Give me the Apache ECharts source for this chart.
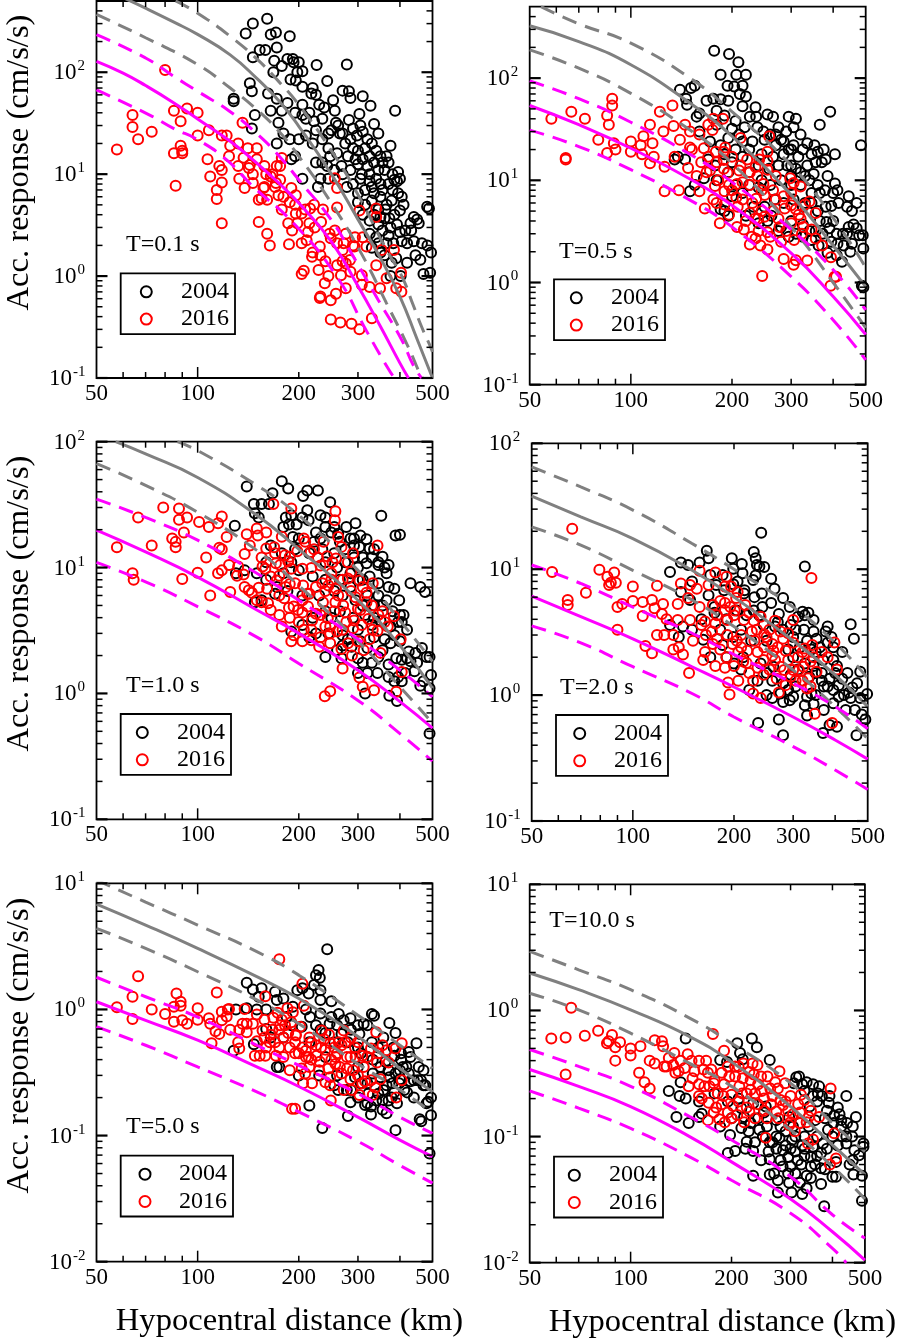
<!DOCTYPE html>
<html>
<head>
<meta charset="utf-8">
<style>
  html, body { margin: 0; padding: 0; background: #fff; }
  #chart { width: 898px; height: 1341px; }
</style>
<script src="https://cdn.jsdelivr.net/npm/echarts@6/dist/echarts.min.js"></script>
</head>
<body>
<div id="chart"></div>
<script>
const xMinorTicks = [60, 70, 80, 90, 200, 300, 400]
const xMajorTicks = [100]
const xLabels = [50, 100, 200, 300, 500]
const yearNames = ['2004', '2016']

// T=0.1 s
const t01_2004 = [[161,335],[146,300],[139,240],[165,235],[171,245],[188,225],[172,175],[153,165],[159,165],[146,140],[169,130],[193,125],[178,115],[168,100],[185,135],[192,135],[200,125],[198,100],[205,102],[196,83],[226,118],[278,119],[243,82],[189,85],[205,72],[220,70],[218,62],[162,62],[172,55],[225,60],[145,65],[143,78],[128,52],[128,55],[270,66],[282,65],[285,56],[310,58],[253,53],[327,47],[387,42],[335,31],[165,42],[178,42],[185,50],[205,48],[215,40],[230,48],[238,45],[148,38],[174,32],[195,40],[205,38],[222,33],[235,35],[258,32],[256,42],[282,34],[303,39],[145,28],[180,25],[172,20],[188,22],[200,22],[210,24],[220,20],[235,22],[245,18],[265,25],[275,20],[285,22],[298,24],[305,30],[320,22],[262,30],[250,27],[375,19],[365,15],[350,15],[340,17],[325,15],[315,18],[300,17],[290,18],[280,15],[260,16],[248,15],[225,13],[235,13],[190,14],[195,15],[205,9],[228,7.5],[232,9],[243,12],[255,11],[268,12],[285,11],[300,12.5],[308,10],[320,12],[335,13],[345,11],[360,11],[380,10],[395,10.5],[392,8.5],[385,8.8],[370,8],[350,8],[325,8.5],[305,9],[290,8],[278,7.5],[300,6.5],[315,7],[335,6.5],[350,6],[365,5],[378,5.5],[405,6],[400,4.4],[385,4],[362,4.5],[345,4.5],[330,5.5],[300,5.3],[310,4],[325,3.5],[345,3.2],[372,3.7],[392,3.2],[355,2.8],[340,2.4],[325,2.6],[345,2.1],[365,2.1],[382,2.1],[405,2.2],[415,2.8],[440,3.8],[450,3.6],[455,3.3],[432,2.8],[440,2.2],[465,2.1],[445,1.6],[420,1.35],[378,1.35],[375,1],[402,1],[460,1.45],[483,2],[495,1.7],[470,1.05],[492,1.08],[482,4.8],[488,4.6],[330,1.9],[350,1.7],[210,35],[225,27],[245,25],[270,25],[290,28],[310,26],[330,20],[345,25],[295,14],[310,14],[325,10],[270,10],[245,9],[355,13],[370,13],[400,9],[340,9],[355,7],[380,7],[395,6.5],[410,5],[330,7.5],[375,3],[400,2.7],[420,2.1],[430,3.3],[360,3.7],[370,2.5],[315,5],[335,4],[350,3.8],[360,1.6],[390,1.5]]
const t01_2016 = [[80,105],[64,38],[64,29],[66.5,22],[73,26],[57.5,17.5],[85,42],[93,44],[89,33],[100,40],[100,24],[89,19],[85,16],[90,16],[90,17],[86,7.7],[108,27],[136,32],[118,24],[122,24],[125,19],[132,20],[141,18],[150,18],[107,14],[109,9.5],[114,7],[114,5.7],[118,3.3],[116,12],[118,11],[118,8.3],[124,15],[132,12],[133,9],[137,14.5],[142,11.5],[138,7.3],[146,8.2],[150,14],[158,12],[152,5.6],[152,3.4],[161,2.6],[164,2],[158,7.5],[161,5.6],[172,12],[176,12],[178,14.4],[176,8.8],[165,9.5],[180,6],[174,6.2],[178,4.5],[190,7.3],[196,6.2],[186,3.3],[198,3.3],[191,2.8],[187,2.05],[204,2.1],[204,4.1],[196,4.1],[209,4.5],[216,4.6],[222,5],[236,4.5],[213,2.7],[204,1.05],[207,1.13],[219,1.55],[229,1.15],[231,1.95],[232,1.6],[233,3.4],[247,2.6],[249,2.35],[256,2.8],[260,2.1],[223,3],[232,0.63],[231,0.61],[249,0.58],[258,0.67],[239,0.85],[245,1],[276,0.76],[267,1.02],[260,1.28],[270,1.4],[284,1.44],[249,0.375],[266,0.35],[287,0.34],[303,0.3],[330,0.385],[256,9.1],[260,7.3],[260,4.7],[303,4.4],[340,4.6],[340,3.8],[294,2.4],[310,2.4],[293,1.95],[318,1.95],[353,1.8],[384,1.8],[340,1.28],[365,0.95],[403,1.08],[308,1.02],[308,0.82],[325,0.78],[349,0.76],[390,0.76],[404,0.7],[276,2.6],[272,2.1],[167,10],[171,8.2],[143,12.3],[157,7.3],[211,2.25],[276,1.33],[155,5.8],[270,1.8],[290,2],[220,1.7],[240,1.4],[285,1.1],[195,5],[188,5.3],[170,7.5],[160,10],[146,10],[215,3.3]]
const t01_grayMid = [[60,540],[70,425],[85,310],[100,235],[125,148],[150,87],[175,52],[200,29.5],[250,10],[300,3.6],[350,1.5],[400,0.63],[450,0.24],[500,0.1]]
const t01_grayHigh = [[86,500],[100,380],[125,225],[150,135],[175,80],[200,48],[250,17],[300,6.3],[365,1.8],[405,1],[438,0.52],[464,0.318],[494,0.2],[500,0.18]]
const t01_grayLow = [[50,369],[70,218],[100,119],[125,70],[150,43],[175,26],[200,15],[250,5.2],[307,1.67],[365,0.54],[424,0.2],[459,0.11],[468,0.1]]
const t01_pinkMid = [[50,128],[60,98],[70,74],[85,50],[100,34.8],[125,21],[150,12.8],[175,8.1],[200,5.2],[250,2.18],[300,0.8],[350,0.32],[400,0.14],[424,0.1]]
const t01_pinkHigh = [[50,234],[70,138],[85,91],[100,65],[125,41],[150,25],[175,15],[200,8.8],[250,3.55],[287,1.67],[345,0.58],[405,0.236],[438,0.134],[464,0.1]]
const t01_pinkLow = [[50,67],[72,38],[85,28],[100,21.8],[122,13.8],[146,7.6],[193,3.3],[260,0.98],[318,0.29],[374,0.115],[386,0.1]]

// T=0.5 s
const t05_2004 = [[177,185],[196,172],[209,143],[185,108],[206,108],[220,108],[194,84],[203,83],[215,84],[155,84],[151,80],[140,77],[146,63],[147,55],[168,60],[176,63],[185,62],[195,60],[211,70],[220,66],[215,53],[235,52],[160,45],[157,42],[180,48],[190,43],[205,38],[226,42],[236,42],[255,44],[265,42],[295,42],[310,40],[392,47],[365,35],[484,22],[375,20],[405,18],[380,16],[180,35],[200,32],[218,33],[238,33],[260,28],[275,33],[290,30],[305,33],[320,28],[335,23],[352,22],[360,19],[345,18],[325,20],[305,22],[285,24],[270,22],[250,25],[230,24],[215,24],[195,26],[172,24],[160,30],[185,22],[205,20],[225,20],[245,18],[265,17],[285,18],[300,20],[315,17],[335,14],[355,15],[370,15],[385,11],[350,11.5],[330,11],[310,13],[292,14],[275,14],[258,13],[240,14],[215,17],[200,15],[150,7.8],[155,9],[165,10.5],[180,10],[195,12],[225,12],[205,9],[215,7.5],[240,8.5],[260,9],[280,10],[300,11],[320,9],[345,7.5],[365,7.5],[405,9.3],[412,8],[400,7.5],[415,6],[395,5.6],[380,5.5],[445,7],[440,5.5],[455,5],[470,6],[360,5],[345,6],[325,5.5],[305,6.5],[285,6],[268,6.5],[250,5.5],[232,5.5],[220,4.5],[190,5],[195,4.5],[240,3.8],[262,4.5],[280,3.5],[300,4],[325,3.7],[365,4],[382,3.9],[390,3.4],[372,3],[410,3],[428,3],[445,3.5],[460,3.7],[440,3],[455,2.4],[478,2.9],[450,2],[492,2.15],[385,1.95],[410,1.85],[425,1.6],[362,2.3],[345,2.6],[487,0.93],[492,0.9],[275,3.2],[295,2.8],[145,16],[135,16],[138,17],[170,16],[178,14],[190,18],[210,28],[248,30],[270,28],[295,20],[320,12],[340,10],[360,9],[378,8],[300,9],[330,6],[355,3.2],[400,4],[470,3.4],[430,2.3],[490,2.9],[340,3.2],[245,10],[225,9],[200,7],[185,5.2],[255,4],[310,3],[325,2.8],[412,2.4],[395,2.5],[300,14],[280,25]]
const t05_2016 = [[58,40],[66.5,47],[73,40],[64,16],[64,16.5],[80,25],[85,43],[88,63],[88,54],[86,35],[85,18.5],[89,23],[90,20],[100,24],[100,19],[107,22],[109,27],[108,18],[114,35],[116,23],[114,14.7],[117,17],[122,47],[125,30],[126,13.6],[126,7.8],[133,54],[134,34],[135,17],[145,35],[140,25],[150,30],[139,8],[160,7.8],[166,5.3],[148,13.2],[157,11],[160,28],[176,40],[188,40],[170,35],[175,31],[212,26],[258,27],[152,20],[165,20.6],[170,17],[179,19],[189,19],[191,21],[172,12.5],[178,8.8],[176,6.5],[189,13],[189,15.8],[194,11.8],[196,9],[190,7.8],[206,6.8],[207,9.2],[215,9.6],[226,12],[226,9],[238,11],[241,16],[255,19],[255,15.5],[255,12.7],[248,9.2],[265,8],[215,6.5],[236,6.6],[250,7.2],[208,5.5],[226,4.8],[234,4.2],[239,4.2],[245,5],[275,4.2],[287,5.3],[277,3.5],[298,10.5],[305,9.4],[320,8.7],[340,6.2],[330,5.8],[355,4.8],[316,4.6],[300,3.8],[326,3.5],[323,3],[255,3.1],[207,3.5],[217,3.3],[229,2.8],[235,2.7],[226,2.35],[243,2.3],[255,2.1],[280,2.5],[306,2.6],[355,2.7],[371,2.3],[285,1.7],[305,1.49],[310,1.65],[335,1.64],[394,1.77],[404,1.14],[408,1.14],[393,0.93],[246,1.16],[184,3.8],[196,4.6],[150,21],[162,15],[168,12],[180,15],[200,17],[212,14],[222,16],[235,13.5],[245,8],[270,11],[285,7],[300,7.5],[310,5.2],[265,5],[250,4.4],[220,4],[190,5.8],[200,8],[180,6],[182,10],[270,6.5],[345,3.3],[290,3.2],[260,2.8],[240,3.2],[300,5.7],[320,4.2],[230,6],[210,12.5]]
const t05_grayMid = [[50,325],[70,228],[100,135],[150,57],[200,27],[300,7.2],[400,2.3],[500,0.91]]
const t05_grayHigh = [[54,500],[70,340],[100,220],[150,100],[200,47],[300,14],[400,4.3],[500,1.4]]
const t05_grayLow = [[50,189],[70,125],[100,71],[150,31],[200,14.7],[300,3.5],[400,1],[500,0.36]]
const t05_pinkMid = [[50,54],[70,35],[100,20.6],[150,10.3],[200,5.7],[300,1.94],[400,0.73],[500,0.31]]
const t05_pinkHigh = [[50,94],[70,63],[100,37],[150,18],[200,9.6],[300,3.3],[400,1.33],[500,0.54]]
const t05_pinkLow = [[50,31],[70,21.4],[100,12.7],[150,6.4],[200,3.5],[300,1.14],[400,0.43],[500,0.175]]

// T=1.0 s
const t10_2004 = [[178,48.6],[186,42.5],[140,44],[167,39],[212,41],[228,41],[206,37],[248,33],[147,32],[155,32],[163,32],[148,27],[152,25],[129,21.5],[352,25.8],[388,18],[400,18.2],[430,7.5],[460,7],[475,6.4],[212,28.5],[232,26],[240,25],[190,26],[183,25],[214,23.8],[180,21],[187,22],[197,22],[277,21],[295,22.5],[250,19],[225,19],[262,18.6],[192,17.5],[292,17],[318,16.8],[303,14.6],[325,14.2],[355,12.2],[370,10.5],[345,11],[318,10.8],[365,9],[292,15],[195,14],[215,13],[235,14],[255,13],[275,14],[292,12],[310,12],[330,12],[345,10.5],[360,10],[285,9],[265,8],[240,8],[220,8.5],[200,9.5],[180,9],[172,7],[170,6.2],[155,5.5],[148,5.3],[300,8],[325,8.5],[345,7.5],[370,7],[385,6.8],[398,5.5],[380,4.5],[365,5.5],[345,6],[320,6],[295,5.5],[270,6],[240,4.5],[220,4],[205,3.5],[190,3.1],[265,4.5],[290,4],[315,4.2],[350,3.8],[375,3.4],[395,3.7],[400,4.2],[410,4.2],[405,3.7],[385,2.9],[360,2.7],[335,2.8],[305,2.6],[280,2.7],[270,2.9],[245,3],[240,1.95],[268,1.9],[287,2.35],[320,2.3],[345,1.95],[330,1.75],[310,1.75],[370,1.7],[390,1.9],[405,1.85],[425,2.15],[445,2.1],[465,2.3],[480,1.95],[490,1.95],[450,1.75],[430,1.8],[415,1.45],[395,1.35],[385,1.25],[405,1.25],[442,1.5],[460,1.15],[470,1.25],[495,1.4],[490,1.1],[320,1.45],[343,1.45],[300,1.45],[315,1],[372,0.96],[392,0.87],[490,0.48],[130,9],[138,9.5],[160,11],[200,17],[232,17],[255,21],[275,11],[310,8],[335,5],[205,25],[222,16],[240,21],[265,16],[285,17],[305,18],[335,14],[300,10],[240,11],[260,10],[190,11],[178,13],[165,15],[150,9],[160,8],[185,6.5],[205,6],[230,6],[255,6.5],[285,7],[310,5],[335,4],[355,5],[250,4],[225,3],[215,2.8],[260,2.2],[300,3.2],[330,3.5],[375,2.5],[400,2.6],[420,1.9],[355,2.2],[370,1.35],[300,1.9],[270,2.4],[420,3.2]]
const t10_2016 = [[79,30],[66.5,25],[88,29.5],[88,24],[93,25],[101,23],[108,21],[115,22.5],[118,25.5],[91,19],[84,17],[86,16],[86,14.5],[73,15],[57.5,14.5],[64,9],[64.5,8],[90,8.1],[100,9.1],[106,12],[109,6],[115,9],[118,9.5],[116,14.4],[118,14],[122,17.5],[124,10.5],[132,10.2],[131,8.6],[137,8.8],[138,7],[125,6.4],[138,12.8],[140,18.4],[150,20.4],[143,15],[151,18],[160,19],[160,14.2],[169,14.5],[168,32],[190,29.5],[178,17.6],[156,10.2],[159,9.8],[145,6.3],[142,6.6],[152,6.9],[161,6.8],[150,5.5],[155,5.3],[162,5.2],[165,4.6],[175,4.2],[178,3.4],[171,10.8],[176,10.5],[182,12.5],[188,12.2],[186,11.2],[190,9.8],[175,8.6],[172,7.9],[188,7.4],[181,5.7],[187,4.8],[193,4.9],[205,5.5],[199,4.6],[205,4.4],[213,4.9],[188,4],[193,2.9],[190,2.6],[205,2.6],[207,3.2],[218,3.2],[219,3.8],[218,2.65],[230,2.35],[232,4.2],[232,2.8],[248,2.5],[248,3],[248,3.4],[244,3.95],[260,3.1],[236,5.3],[257,5.3],[271,5],[215,6.2],[206,7.2],[205,9.8],[218,9.9],[207,17],[209,16],[237,16],[217,13.3],[243,12.3],[258,11.8],[252,11],[232,10.4],[250,9],[262,17.5],[268,14.6],[257,28],[256,23.8],[245,7.2],[258,6.8],[287,9.3],[303,7.9],[286,6.5],[318,6.3],[318,5.3],[332,7.5],[343,15],[305,4.6],[355,4.5],[384,4.1],[368,3.4],[277,3.7],[292,3.8],[308,3.5],[332,3.2],[343,3.15],[325,2.7],[402,2.7],[268,2.25],[288,2],[312,2.2],[350,2.1],[270,1.58],[405,1.48],[303,1.34],[310,1.13],[335,1.06],[390,1.03],[239,0.95],[248,1.04],[170,13],[198,13.5],[222,14],[195,7.5],[212,6.2],[225,7],[240,6.5],[270,8],[262,6],[280,8.2],[295,5.8],[310,7],[200,3.7],[225,4.3],[255,4.5],[275,4.4],[300,4.7],[330,5],[345,4.2],[270,3.2],[290,3.3],[240,3.4],[322,3.9],[300,2.6],[280,2.5],[360,3.7],[175,6],[183,7],[155,12],[165,8.5],[235,7.5],[250,8],[228,12],[280,11],[290,13]]
const t10_grayMid = [[57,100],[70,80],[100,52],[150,26],[200,14],[300,5.5],[400,2.4],[500,1.1]]
const t10_grayHigh = [[87,100],[100,85],[150,45],[200,26],[300,9.5],[400,3.8],[500,1.8]]
const t10_grayLow = [[50,67],[70,45],[100,27.5],[150,13.7],[200,7.2],[300,2.6],[400,1.13],[500,0.58]]
const t10_pinkMid = [[50,19.8],[70,13.3],[100,8.4],[150,4.6],[200,3],[300,1.53],[400,0.86],[500,0.53]]
const t10_pinkHigh = [[50,35],[70,25],[100,16.5],[150,9],[200,5.5],[300,2.7],[400,1.53],[500,0.94]]
const t10_pinkLow = [[50,11],[70,7.7],[100,4.9],[150,2.8],[200,1.73],[300,0.88],[400,0.48],[500,0.29]]

// T=2.0 s
const t20_2004 = [[241,19.5],[229,13.7],[166,14],[168,12.2],[139,11.3],[146,10.8],[129,9.5],[158,11.3],[197,12.2],[211,11],[199,10.1],[212,9.3],[232,12.2],[234,10.8],[238,10.5],[246,10.4],[232,8.9],[228,8.2],[325,10.5],[258,8.4],[264,7],[280,5.9],[293,5],[445,3.65],[455,2.8],[380,3.5],[375,3.2],[345,3.2],[345,3.95],[325,4.3],[320,4.6],[333,4.5],[310,4.2],[390,2.9],[420,2.2],[435,1.5],[475,1.53],[465,1.24],[498,1.02],[492,0.64],[463,0.48],[458,0.76],[139,6.6],[148,5.7],[168,6.2],[177,7.5],[187,6.8],[199,7.6],[214,6.4],[230,6],[242,6.4],[258,5.4],[272,4.4],[229,4.7],[243,5],[204,4.7],[218,4.3],[238,4.3],[265,3.5],[280,3.3],[300,2.9],[323,3.3],[352,2.8],[380,2.6],[395,1.9],[340,2.3],[314,2.4],[368,1.9],[350,1.5],[385,1.35],[405,1.7],[420,1.35],[380,1.17],[410,0.97],[395,0.86],[370,1.17],[340,1.03],[325,0.83],[330,0.69],[370,0.76],[430,0.76],[385,0.58],[405,0.56],[368,0.5],[300,0.97],[293,0.91],[275,1.03],[280,0.88],[250,1],[222,1.1],[236,0.6],[272,0.64],[280,0.48],[280,1.24],[260,1.3],[262,1.68],[240,1.78],[213,2],[200,1.78],[190,2],[162,2.75],[137,2.9],[129,3.6],[141,3.5],[182,3.3],[199,2.9],[300,2],[325,1.78],[295,1.45],[335,1.4],[305,1.17],[330,0.97],[160,4],[175,4.5],[210,3.3],[225,2.7],[250,2.7],[290,2.3],[350,2.2],[365,1.5],[410,1.2],[440,1.05],[475,0.95],[480,0.7],[150,8],[170,9],[185,9],[205,8],[215,6.8],[175,5],[190,4],[150,3.3],[245,3.6],[270,3.8],[295,3.6],[305,3.3],[330,2.7],[360,2.4],[395,2.4],[310,1.6],[345,1.7],[365,1.3],[400,1.5],[450,1.15],[425,1],[445,0.95],[290,1.1],[260,0.95],[235,1.3],[210,1.6],[185,2.5],[170,2],[250,1.5],[350,1],[395,1.1],[345,0.85]]
const t20_2016 = [[66,21],[57.5,9.5],[64,5.7],[64,5.2],[72.5,6.5],[79.5,9.9],[84,8.7],[88,9.4],[86,7.8],[89,7.8],[85,7.5],[90,5],[93,5.3],[90,3.3],[100,7.3],[100,5.6],[107,5.5],[114,5.7],[107,4.25],[116,4.9],[123,5.3],[118,7.4],[122,4.4],[126,4],[118,3],[124,3],[109,2.45],[114,2.15],[132,2.3],[132,3],[137,2.4],[141,2.1],[136,5.3],[136,3.95],[139,7.7],[146,5.9],[148,3.95],[148,7.5],[147,1.5],[151,2.7],[155,7],[158,9.7],[158,5],[160,3.6],[164,3.85],[162,1.9],[164,2.2],[176,1.7],[176,9.4],[173,5.2],[178,4.3],[176,3.7],[172,3.2],[178,2.8],[173,2.55],[190,2],[188,1.65],[190,8.7],[188,7.3],[188,5.4],[188,4.7],[191,3.95],[191,3],[196,7.3],[205,6.6],[203,5.9],[201,4.7],[200,4.3],[198,2.55],[204,2.7],[206,2.2],[216,5.2],[214,3.95],[219,2.25],[213,1.85],[218,1.8],[206,1.3],[192,1.26],[194,1.01],[228,1.3],[228,1.03],[240,0.95],[245,1.45],[226,3.2],[234,3.3],[229,3.9],[246,3.05],[265,3.9],[246,2.4],[235,2.2],[245,1.9],[260,2.55],[262,2.25],[260,2.05],[275,3.2],[290,3.1],[300,3.95],[285,2.25],[275,1.68],[282,1.58],[312,1.58],[300,1.58],[322,1.68],[338,1.85],[325,2.35],[342,2.5],[365,2.2],[398,2.62],[405,1.6],[352,1.53],[332,1.36],[330,1.13],[338,1.17],[305,1.3],[285,1.2],[272,1.05],[340,8.5],[348,0.71],[392,0.6],[168,7.5],[182,5.6],[195,5],[165,3],[182,2.3],[210,3],[222,4.5],[240,4.2],[255,3.3],[280,2.8],[300,2.6],[320,2.2],[345,2],[380,2],[310,2],[290,1.9],[255,1.6],[235,1.65],[222,1.5],[268,1.35],[200,1.7],[210,2.4],[230,2.7],[250,2.9],[270,2.4],[295,1.4],[320,1.3],[265,1.9]]
const t20_grayMid = [[50,38],[70,26],[100,17.5],[150,9.8],[200,6],[300,2.7],[400,1.45],[500,0.81]]
const t20_grayHigh = [[50,65],[70,45],[100,29.5],[150,16],[200,10],[300,5],[400,2.6],[500,1.36]]
const t20_grayLow = [[50,21.7],[70,15.5],[100,9.8],[150,5.7],[200,3.5],[300,1.58],[400,0.81],[500,0.45]]
const t20_pinkMid = [[50,6.1],[70,4.2],[100,2.8],[150,1.68],[200,1.16],[300,0.67],[400,0.44],[500,0.31]]
const t20_pinkHigh = [[50,10.8],[70,7.7],[100,5],[150,3.1],[200,2.1],[300,1.24],[400,0.81],[500,0.54]]
const t20_pinkLow = [[50,3.55],[70,2.6],[100,1.68],[150,1.03],[200,0.67],[300,0.39],[400,0.254],[500,0.178]]

// T=5.0 s
const t50_2004 = [[243,3],[229,2.05],[225,1.87],[231,1.78],[140,1.63],[146,1.44],[155,1.47],[170,1.38],[152,1.26],[172,1.19],[180,1.22],[198,1.42],[205,1.47],[214,1.34],[222,1.56],[232,1.42],[232,1.19],[250,1.16],[192,1.05],[216,0.87],[263,0.92],[272,0.82],[312,0.77],[320,0.75],[330,0.92],[335,0.89],[372,0.78],[388,0.65],[448,0.54],[425,0.46],[455,0.35],[470,0.33],[452,0.275],[476,0.25],[495,0.2],[485,0.185],[440,0.2],[458,0.135],[463,0.13],[495,0.145],[490,0.072],[388,0.11],[365,0.15],[355,0.16],[328,0.147],[328,0.17],[315,0.175],[280,0.143],[285,0.184],[235,0.115],[215,0.173],[172,0.35],[175,0.35],[128,0.47],[147,0.53],[130,1],[140,1.02],[150,1],[160,1],[184,0.87],[204,0.73],[232,0.69],[250,0.87],[286,0.69],[303,0.64],[232,0.93],[247,0.77],[268,0.64],[306,0.45],[320,0.42],[357,0.6],[383,0.5],[403,0.4],[362,0.385],[332,0.4],[372,0.29],[408,0.35],[388,0.31],[418,0.35],[398,0.26],[357,0.23],[378,0.2],[392,0.18],[370,0.19],[345,0.215],[322,0.215],[294,0.29],[286,0.23],[262,0.23],[306,0.26],[255,0.25],[278,0.23],[320,0.26],[425,0.31],[440,0.275],[412,0.23],[462,0.275],[403,0.45],[332,0.31],[350,0.29],[160,0.7],[180,0.6],[215,0.55],[240,0.42],[280,0.55],[300,0.35],[350,0.35],[380,0.26],[480,0.18],[400,0.28],[165,0.6],[190,0.75],[210,1],[225,0.75],[240,0.65],[260,0.75],[285,0.85],[300,0.75],[255,0.55],[300,0.5],[330,0.55],[345,0.5],[385,0.43],[430,0.42],[300,0.2],[320,0.18],[340,0.19],[355,0.19],[365,0.25],[420,0.22],[430,0.27],[470,0.25],[260,0.3],[230,0.3],[200,0.3],[370,0.33],[400,0.33],[385,0.22]]
const t50_2016 = [[175,2.5],[205,1.6],[66.5,1.83],[64,1.26],[57.5,1.04],[64,0.84],[73,1],[80,0.92],[85,1.05],[86.5,1.34],[89,1.15],[89,1.07],[85,0.8],[90,0.82],[93,0.77],[100,1.02],[100,0.83],[108,0.85],[109,0.77],[110,0.54],[114,1.36],[113,0.67],[116,0.64],[118,0.96],[118,0.82],[123,1],[124,1.01],[122,0.88],[125,0.69],[138,1.01],[133,0.69],[132,0.55],[133,0.49],[136,0.77],[140,0.66],[140,0.77],[146,0.77],[150,0.91],[156,0.68],[159,1.27],[158,0.83],[164,0.55],[148,0.43],[153,0.43],[159,0.43],[171,0.43],[168,0.86],[173,0.94],[175,0.69],[176,0.75],[175,0.5],[167,0.69],[185,1.02],[190,0.79],[186,0.65],[196,0.63],[188,0.5],[180,0.42],[188,0.33],[191,0.163],[195,0.163],[204,0.34],[206,0.26],[209,0.31],[207,1.07],[202,0.73],[196,0.62],[205,0.5],[214,0.42],[210,0.42],[218,0.4],[219,0.26],[218,0.55],[234,0.68],[246,0.63],[248,0.54],[233,0.5],[231,0.385],[248,0.29],[240,0.265],[248,0.25],[249,0.19],[257,0.42],[257,0.37],[263,0.55],[268,0.52],[272,0.68],[286,0.6],[294,0.5],[278,0.42],[278,0.34],[268,0.31],[272,0.23],[288,0.23],[303,0.21],[309,0.43],[312,0.35],[328,0.49],[340,0.66],[355,0.52],[365,0.475],[388,0.49],[405,0.54],[342,0.38],[309,0.26],[328,0.275],[350,0.28],[338,0.24],[332,0.21],[390,0.2],[405,0.275],[226,0.43],[250,0.4],[158,0.6],[165,0.63],[180,0.6],[182,0.75],[195,0.55],[200,0.45],[215,0.6],[225,0.52],[240,0.48],[238,0.58],[255,0.5],[260,0.45],[275,0.55],[285,0.42],[295,0.42],[300,0.55],[320,0.42],[345,0.45],[370,0.38],[290,0.33],[300,0.3],[315,0.27],[245,0.34],[230,0.33],[215,0.35],[195,0.45],[170,0.55],[150,0.56],[160,0.5],[178,0.83],[192,0.95],[210,0.47],[265,0.35],[285,0.28]]
const t50_grayMid = [[50,6.85],[70,4.67],[100,3.05],[150,1.82],[200,1.22],[300,0.61],[400,0.34],[500,0.222]]
const t50_grayHigh = [[50,10.6],[70,7.1],[100,4.67],[150,2.87],[200,1.87],[300,0.9],[400,0.52],[500,0.34]]
const t50_grayLow = [[50,4.4],[70,3.05],[100,1.99],[150,1.19],[200,0.77],[300,0.37],[400,0.23],[480,0.164]]
const t50_pinkMid = [[50,1.15],[70,0.82],[100,0.57],[150,0.35],[200,0.245],[300,0.14],[400,0.092],[500,0.068]]
const t50_pinkHigh = [[50,1.8],[70,1.26],[100,0.87],[150,0.52],[200,0.36],[300,0.215],[400,0.14],[500,0.104]]
const t50_pinkLow = [[50,0.73],[70,0.52],[100,0.35],[150,0.222],[200,0.154],[300,0.09],[400,0.058],[500,0.042]]

// T=10.0 s
const t100_2004 = [[146,0.6],[208,0.55],[230,0.6],[238,0.51],[212,0.46],[216,0.41],[260,0.405],[185,0.405],[194,0.39],[312,0.295],[318,0.3],[325,0.26],[335,0.27],[350,0.26],[365,0.25],[392,0.21],[372,0.21],[440,0.21],[390,0.185],[405,0.147],[425,0.135],[470,0.143],[460,0.12],[425,0.12],[458,0.1],[440,0.088],[465,0.078],[495,0.088],[495,0.083],[480,0.071],[460,0.065],[462,0.05],[490,0.049],[490,0.031],[378,0.028],[410,0.048],[130,0.23],[140,0.21],[146,0.2],[137,0.143],[149,0.128],[160,0.143],[163,0.152],[141,0.27],[198,0.103],[214,0.117],[195,0.074],[205,0.077],[222,0.091],[232,0.077],[232,0.049],[248,0.1],[258,0.076],[260,0.066],[272,0.1],[272,0.08],[278,0.098],[303,0.094],[295,0.069],[310,0.076],[284,0.058],[295,0.051],[268,0.051],[310,0.051],[323,0.06],[345,0.069],[370,0.074],[335,0.049],[345,0.047],[370,0.042],[335,0.039],[320,0.043],[302,0.036],[275,0.036],[297,0.043],[400,0.048],[410,0.063],[370,0.056],[232,0.184],[218,0.143],[253,0.173],[272,0.135],[297,0.143],[320,0.128],[355,0.135],[388,0.113],[375,0.088],[330,0.1],[305,0.12],[342,0.173],[362,0.22],[255,0.12],[228,0.128],[242,0.113],[214,0.168],[285,0.078],[350,0.083],[403,0.128],[442,0.128],[428,0.1],[307,0.265],[185,0.12],[200,0.14],[235,0.09],[265,0.09],[290,0.085],[330,0.08],[355,0.06],[385,0.08],[385,0.16],[415,0.17],[160,0.19],[178,0.22],[195,0.19],[210,0.2],[225,0.11],[240,0.14],[250,0.155],[260,0.09],[280,0.12],[290,0.11],[310,0.1],[325,0.085],[340,0.12],[360,0.1],[380,0.14],[400,0.1],[415,0.085],[360,0.19],[350,0.21],[330,0.23],[420,0.15],[440,0.1],[450,0.06],[300,0.08],[315,0.065],[280,0.065],[245,0.065],[220,0.08],[360,0.07],[345,0.058],[380,0.055],[330,0.07],[300,0.058],[260,0.05],[275,0.045],[325,0.035]]
const t100_2016 = [[66.5,1.05],[58,0.6],[64,0.61],[73,0.63],[64,0.31],[80,0.69],[85,0.55],[88,0.64],[86,0.57],[93,0.56],[90,0.51],[90,0.4],[100,0.5],[100,0.44],[107,0.52],[106,0.32],[110,0.27],[114,0.24],[114,0.4],[118,0.58],[125,0.52],[118,0.38],[126,0.36],[124,0.57],[135,0.46],[134,0.37],[139,0.33],[136,0.32],[141,0.4],[148,0.45],[152,0.4],[149,0.25],[153,0.29],[160,0.26],[165,0.34],[163,0.2],[160,0.4],[168,0.4],[170,0.135],[176,0.65],[174,0.34],[171,0.185],[177,0.155],[172,0.25],[177,0.265],[187,0.32],[190,0.48],[189,0.21],[187,0.18],[191,0.13],[184,0.137],[197,0.3],[195,0.155],[205,0.36],[200,0.215],[202,0.175],[208,0.148],[211,0.25],[216,0.29],[226,0.325],[231,0.38],[239,0.37],[233,0.31],[228,0.235],[226,0.158],[235,0.14],[240,0.18],[246,0.23],[256,0.3],[261,0.24],[278,0.33],[289,0.265],[272,0.158],[276,0.14],[255,0.14],[253,0.098],[280,0.195],[285,0.178],[300,0.21],[316,0.18],[322,0.215],[330,0.195],[395,0.24],[340,0.143],[365,0.143],[297,0.123],[309,0.11],[350,0.095],[338,0.088],[405,0.106],[410,0.067],[393,0.06],[320,0.128],[217,0.38],[222,0.22],[170,0.32],[178,0.28],[182,0.22],[190,0.26],[195,0.36],[205,0.3],[210,0.19],[215,0.22],[222,0.17],[218,0.13],[228,0.28],[235,0.22],[240,0.26],[250,0.2],[250,0.16],[262,0.18],[265,0.21],[275,0.24],[290,0.19],[295,0.16],[305,0.15],[320,0.155],[335,0.13],[345,0.16],[180,0.17],[200,0.14],[210,0.36],[160,0.21],[166,0.25],[145,0.35],[155,0.33],[130,0.42],[128,0.36],[300,0.13],[270,0.27],[245,0.3]]
const t100_grayMid = [[50,1.98],[70,1.46],[100,1.01],[150,0.62],[200,0.39],[300,0.173],[400,0.086],[500,0.05]]
const t100_grayHigh = [[50,2.94],[70,2.1],[100,1.46],[150,0.87],[200,0.55],[300,0.265],[400,0.128],[500,0.076]]
const t100_grayLow = [[50,1.37],[70,1.01],[100,0.66],[150,0.38],[200,0.25],[300,0.113],[400,0.058],[500,0.032]]
const t100_pinkMid = [[50,0.34],[70,0.25],[100,0.173],[150,0.1],[200,0.063],[300,0.032],[400,0.0176],[500,0.0105]]
const t100_pinkHigh = [[50,0.49],[70,0.36],[100,0.25],[150,0.144],[200,0.094],[300,0.048],[400,0.024],[500,0.0156]]
const t100_pinkLow = [[50,0.23],[70,0.168],[100,0.116],[150,0.069],[200,0.045],[300,0.0247],[400,0.013],[440,0.01]]

const FONT = '"Liberation Serif", "Times New Roman", serif'

// one entry per panel: frame position, axis range, label and legend spots
const panels = [
  { label: 'T=0.1 s', left: 96.5, top: 1, width: 336, height: 377, yMin: 0.1, yMax: 500, exps: [-1, 0, 1, 2], labelX: 126, labelY: 233, legend: [120.7, 273.3, 145.3, 180], yName: true, xName: false, s2004: t01_2004, s2016: t01_2016, lines: [t01_grayMid, t01_grayHigh, t01_grayLow, t01_pinkMid, t01_pinkHigh, t01_pinkLow] },
  { label: 'T=0.5 s', left: 529.7, top: 6.7, width: 336, height: 378, yMin: 0.1, yMax: 500, exps: [-1, 0, 1, 2], labelX: 559, labelY: 240, legend: [554, 279.3, 575.3, 610], yName: false, xName: false, s2004: t05_2004, s2016: t05_2016, lines: [t05_grayMid, t05_grayHigh, t05_grayLow, t05_pinkMid, t05_pinkHigh, t05_pinkLow] },
  { label: 'T=1.0 s', left: 96.5, top: 441.7, width: 336, height: 377.6, yMin: 0.1, yMax: 100, exps: [-1, 0, 1, 2], labelX: 126, labelY: 674, legend: [120.7, 714, 141.3, 176], yName: true, xName: false, s2004: t10_2004, s2016: t10_2016, lines: [t10_grayMid, t10_grayHigh, t10_grayLow, t10_pinkMid, t10_pinkHigh, t10_pinkLow] },
  { label: 'T=2.0 s', left: 531.7, top: 443.3, width: 336, height: 377.7, yMin: 0.1, yMax: 100, exps: [-1, 0, 1, 2], labelX: 560, labelY: 676, legend: [556, 715, 578.7, 613], yName: false, xName: false, s2004: t20_2004, s2016: t20_2016, lines: [t20_grayMid, t20_grayHigh, t20_grayLow, t20_pinkMid, t20_pinkHigh, t20_pinkLow] },
  { label: 'T=5.0 s', left: 96.5, top: 883.3, width: 336, height: 378.4, yMin: 0.01, yMax: 10, exps: [-2, -1, 0, 1], labelX: 126, labelY: 1115, legend: [120.7, 1155.7, 144, 178], yName: true, xName: true, s2004: t50_2004, s2016: t50_2016, lines: [t50_grayMid, t50_grayHigh, t50_grayLow, t50_pinkMid, t50_pinkHigh, t50_pinkLow] },
  { label: 'T=10.0 s', left: 529.7, top: 884.3, width: 336, height: 378.4, yMin: 0.01, yMax: 10, exps: [-2, -1, 0, 1], labelX: 549.3, labelY: 909, legend: [554, 1156.7, 573.3, 608], yName: false, xName: true, s2004: t100_2004, s2016: t100_2016, lines: [t100_grayMid, t100_grayHigh, t100_grayLow, t100_pinkMid, t100_pinkHigh, t100_pinkLow] }
]

const lineStyles = [
  { color: '#808080', type: 'solid' },
  { color: '#808080', type: [15, 9] },
  { color: '#808080', type: [15, 9] },
  { color: '#ff00ff', type: 'solid' },
  { color: '#ff00ff', type: [15, 9] },
  { color: '#ff00ff', type: [15, 9] }
]
const lineNames = ['2004 median', '2004 +1 sigma', '2004 -1 sigma', '2016 median', '2016 +1 sigma', '2016 -1 sigma']

// tick marks, mirrored on the opposite side of the frame
function renderTick(params, api) {
  const isX = api.value(2) === 0
  const len = api.value(3)
  const w = api.value(4)
  const a = api.coord([api.value(0), api.value(1)])
  const far = isX ? params.coordSys.y : params.coordSys.x + params.coordSys.width
  const lines = isX
    ? [[a[0], params.coordSys.y + params.coordSys.height, a[0], params.coordSys.y + params.coordSys.height - len], [a[0], far, a[0], far + len]]
    : [[params.coordSys.x, a[1], params.coordSys.x + len, a[1]], [far, a[1], far - len, a[1]]]
  return {
    type: 'group',
    children: lines.map(l => ({
      type: 'line',
      shape: { x1: l[0], y1: l[1], x2: l[2], y2: l[3] },
      style: { stroke: '#000', lineWidth: w }
    }))
  }
}

function renderXLabel(params, api) {
  const a = api.coord([api.value(0), api.value(1)])
  return {
    type: 'text',
    style: { x: a[0], y: a[1] + 16, text: String(api.value(0)), align: 'center', verticalAlign: 'middle', fill: '#000', font: '23px ' + FONT }
  }
}

// 10 with a raised exponent
function renderYLabel(params, api) {
  const a = api.coord([api.value(0), api.value(1)])
  const exp = api.value(2)
  const split = a[0] - (exp < 0 ? 24.5 : 20)
  return {
    type: 'group',
    children: [
      { type: 'text', style: { x: split, y: a[1] + 1, text: '10', align: 'right', verticalAlign: 'middle', fill: '#000', font: '23px ' + FONT } },
      { type: 'text', style: { x: split + 1, y: a[1] - 6, text: String(exp), align: 'left', verticalAlign: 'middle', fill: '#000', font: '15px ' + FONT } }
    ]
  }
}

const grid = [], xAxis = [], yAxis = [], series = [], title = [], legend = []

panels.forEach((p, i) => {
  grid.push({ left: p.left, top: p.top, width: p.width, height: p.height, show: true, borderColor: '#000', borderWidth: 1.8, backgroundColor: 'transparent' })
  xAxis.push({
    type: 'log', gridIndex: i, min: 50, max: 500, logBase: 10,
    axisLine: { show: false }, axisTick: { show: false }, axisLabel: { show: false }, splitLine: { show: false }, minorSplitLine: { show: false },
    name: p.xName ? 'Hypocentral distance (km)' : '',
    nameLocation: 'middle', nameGap: 43,
    nameTextStyle: { fontFamily: FONT, fontSize: 32.6, color: '#000', padding: [0, 0, 0, 50] }
  })
  yAxis.push({
    type: 'log', gridIndex: i, min: p.yMin, max: p.yMax, logBase: 10,
    axisLine: { show: false }, axisTick: { show: false }, axisLabel: { show: false }, splitLine: { show: false }, minorSplitLine: { show: false },
    name: p.yName ? 'Acc. response (cm/s/s)' : '',
    nameLocation: 'middle', nameGap: 61, nameRotate: 90,
    nameTextStyle: { fontFamily: FONT, fontSize: 32.6, color: '#000', padding: [0, 0, 0, 54] }
  })
  title.push({ text: p.label, left: p.labelX, top: p.labelY, padding: 0, textStyle: { fontFamily: FONT, fontSize: 24, fontWeight: 'normal', color: '#000' } })
  legend.push({
    data: yearNames, orient: 'vertical', left: p.legend[0], top: p.legend[1], selectedMode: false,
    icon: 'circle', itemWidth: 11, itemHeight: 11, itemGap: 3.3,
    padding: [6.5, 6, 3, p.legend[2] - p.legend[0] - 5.5],
    borderColor: '#000', borderWidth: 1.8, backgroundColor: '#fff',
    textStyle: { fontFamily: FONT, fontSize: 24, color: '#000', lineHeight: 24, padding: [0, 0, 0, p.legend[3] - p.legend[2] - 10.5] }
  })

  series.push({
    name: '2004', type: 'scatter', xAxisIndex: i, yAxisIndex: i, data: p.s2004, symbol: 'circle', symbolSize: 10, z: 2,
    itemStyle: { color: 'transparent', borderColor: '#000', borderWidth: 2, opacity: 1 }
  })
  series.push({
    name: '2016', type: 'scatter', xAxisIndex: i, yAxisIndex: i, data: p.s2016, symbol: 'circle', symbolSize: 10, z: 3,
    itemStyle: { color: 'transparent', borderColor: '#ff0000', borderWidth: 2, opacity: 1 }
  })
  p.lines.forEach((line, k) => {
    series.push({
      name: lineNames[k], type: 'line', xAxisIndex: i, yAxisIndex: i, data: line, showSymbol: false, smooth: 0.5, z: 4,
      lineStyle: { color: lineStyles[k].color, type: lineStyles[k].type, width: 3 }
    })
  })

  // ticks
  const tickData = []
  xMinorTicks.forEach(v => tickData.push([v, p.yMin, 0, 6, 1.5]))
  xMajorTicks.forEach(v => tickData.push([v, p.yMin, 0, 11, 1.5]))
  p.exps.forEach((e, idx) => {
    const base = Math.pow(10, e)
    tickData.push([50, base, 1, 11, 2.2])
    if (idx === p.exps.length - 1 && p.yMax <= base) return
    for (let m = 2; m <= 9; m++) {
      const v = base * m
      if (v < p.yMax) tickData.push([50, v, 1, 6, 1.5])
    }
  })
  series.push({ type: 'custom', xAxisIndex: i, yAxisIndex: i, coordinateSystem: 'cartesian2d', renderItem: renderTick, data: tickData, clip: false, silent: true, z: 5, encode: { x: 0, y: 1 } })
  series.push({ type: 'custom', xAxisIndex: i, yAxisIndex: i, coordinateSystem: 'cartesian2d', renderItem: renderXLabel, data: xLabels.map(v => [v, p.yMin]), clip: false, silent: true, z: 5, encode: { x: 0, y: 1 } })
  series.push({ type: 'custom', xAxisIndex: i, yAxisIndex: i, coordinateSystem: 'cartesian2d', renderItem: renderYLabel, data: p.exps.map(e => [50, Math.pow(10, e), e]), clip: false, silent: true, z: 5, encode: { x: 0, y: 1 } })
})

const chart = echarts.init(document.getElementById('chart'))
chart.setOption({
  animation: false,
  backgroundColor: '#fff',
  title: title,
  legend: legend,
  grid: grid,
  xAxis: xAxis,
  yAxis: yAxis,
  series: series
})
</script>
</body>
</html>
